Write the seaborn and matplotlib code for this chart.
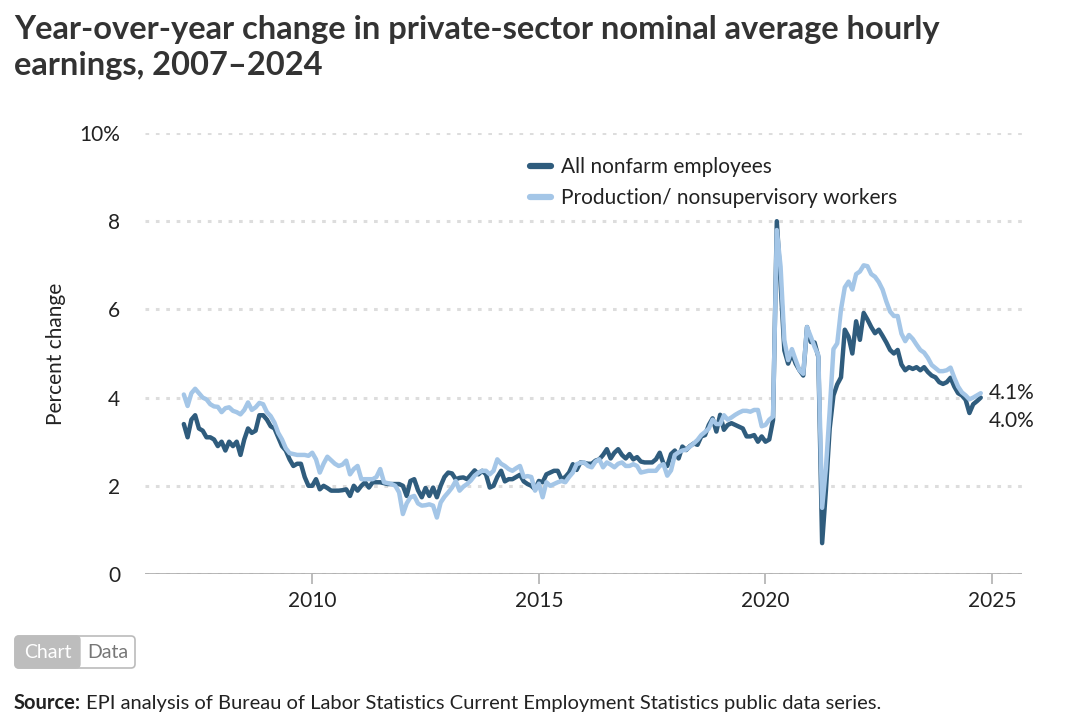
import numpy as np
import pandas as pd
import matplotlib
matplotlib.use("Agg")
import matplotlib.pyplot as plt
from matplotlib.lines import Line2D
from matplotlib.patches import FancyBboxPatch
import seaborn as sns

# ---------------- data (monthly, Mar 2007 - Oct 2024) ----------------
start_month = "2007-03-01"
series_names = ["All nonfarm employees", "Production/ nonsupervisory workers"]

all_nonfarm = [
    3.4, 3.1, 3.5, 3.6, 3.3, 3.25, 3.1, 3.1, 3.05, 2.9,                 # 2007
    3.0, 2.8, 3.0, 2.9, 3.0, 2.7, 3.05, 3.3, 3.2, 3.25, 3.6, 3.6,       # 2008
    3.5, 3.35, 3.3, 3.1, 2.9, 2.8, 2.6, 2.45, 2.5, 2.5, 2.2, 2.0,       # 2009
    2.0, 2.15, 1.92, 2.0, 1.95, 1.89, 1.89, 1.89, 1.9, 1.92, 1.77, 2.0, # 2010
    1.89, 2.0, 2.08, 1.96, 2.08, 2.08, 2.08, 2.06, 2.04, 2.04, 2.04, 2.04,  # 2011
    2.0, 1.77, 2.11, 2.15, 1.9, 1.74, 1.95, 1.77, 1.96, 1.74, 2.0, 2.2,     # 2012
    2.3, 2.28, 2.15, 2.18, 2.19, 2.15, 2.25, 2.35, 2.26, 2.34, 2.26, 1.96,  # 2013
    2.0, 2.2, 2.34, 2.1, 2.15, 2.15, 2.2, 2.25, 2.1, 2.04, 2.0, 1.92,       # 2014
    2.11, 2.08, 2.26, 2.3, 2.34, 2.34, 2.15, 2.2, 2.3, 2.49, 2.36, 2.53,    # 2015
    2.52, 2.5, 2.5, 2.57, 2.6, 2.7, 2.83, 2.62, 2.75, 2.83, 2.7, 2.62,      # 2016
    2.72, 2.6, 2.65, 2.55, 2.53, 2.53, 2.53, 2.6, 2.75, 2.5, 2.45, 2.72,    # 2017
    2.8, 2.62, 2.89, 2.81, 2.9, 2.96, 2.93, 3.12, 3.15, 3.38, 3.53, 3.23,   # 2018
    3.61, 3.27, 3.38, 3.42, 3.38, 3.34, 3.3, 3.12, 3.12, 3.15, 3.0, 3.12,   # 2019
    3.0, 3.05, 3.49, 8.0, 6.6, 5.07, 4.77, 5.0, 4.77, 4.62, 4.5, 5.6,       # 2020
    5.26, 5.25, 4.92, 0.7, 1.9, 3.3, 4.05, 4.3, 4.46, 5.54, 5.38, 5.0,      # 2021
    5.73, 5.31, 5.92, 5.77, 5.6, 5.46, 5.54, 5.4, 5.25, 5.08, 5.0, 5.08,    # 2022
    4.75, 4.62, 4.69, 4.65, 4.69, 4.62, 4.69, 4.58, 4.5, 4.46, 4.35, 4.31,  # 2023
    4.35, 4.45, 4.25, 4.1, 4.05, 3.95, 3.65, 3.85, 3.92, 4.0,               # 2024
]

production = [
    4.07, 3.81, 4.1, 4.2, 4.1, 4.0, 3.96, 3.85, 3.8, 3.79,                  # 2007
    3.67, 3.76, 3.78, 3.7, 3.67, 3.62, 3.72, 3.89, 3.72, 3.78, 3.88, 3.85,  # 2008
    3.67, 3.58, 3.43, 3.2, 3.05, 2.85, 2.74, 2.72, 2.7, 2.7, 2.7, 2.68,     # 2009
    2.75, 2.6, 2.3, 2.5, 2.66, 2.58, 2.5, 2.45, 2.48, 2.57, 2.26, 2.38,     # 2010
    2.45, 2.15, 2.15, 2.15, 2.15, 2.2, 2.38, 2.08, 2.06, 2.04, 2.0, 1.85,   # 2011
    1.36, 1.6, 1.74, 1.77, 1.6, 1.55, 1.56, 1.58, 1.55, 1.28, 1.62, 1.75,   # 2012
    1.85, 1.96, 2.11, 1.89, 1.98, 2.04, 2.12, 2.23, 2.3, 2.34, 2.34, 2.26,  # 2013
    2.34, 2.6, 2.5, 2.45, 2.38, 2.34, 2.4, 2.45, 2.2, 2.22, 2.2, 1.89,      # 2014
    2.05, 1.74, 2.08, 2.0, 2.04, 2.08, 2.11, 2.08, 2.2, 2.3, 2.49, 2.52,    # 2015
    2.53, 2.45, 2.42, 2.55, 2.6, 2.42, 2.53, 2.48, 2.42, 2.5, 2.53, 2.45,   # 2016
    2.45, 2.49, 2.45, 2.3, 2.32, 2.34, 2.34, 2.34, 2.45, 2.49, 2.23, 2.35,  # 2017
    2.7, 2.76, 2.8, 2.82, 2.89, 2.96, 3.04, 3.15, 3.22, 3.3, 3.5, 3.4,      # 2018
    3.4, 3.6, 3.5, 3.55, 3.61, 3.66, 3.7, 3.7, 3.68, 3.72, 3.72, 3.35,      # 2019
    3.38, 3.5, 3.57, 7.8, 6.97, 5.3, 4.85, 5.1, 4.85, 4.62, 4.54, 5.6,      # 2020
    5.38, 5.15, 4.96, 1.5, 2.4, 3.7, 5.1, 5.23, 6.0, 6.5, 6.63, 6.45,       # 2021
    6.8, 6.86, 7.0, 6.98, 6.8, 6.74, 6.62, 6.45, 6.18, 5.95, 5.85, 5.85,    # 2022
    5.45, 5.28, 5.42, 5.33, 5.2, 5.08, 5.02, 4.9, 4.74, 4.67, 4.6, 4.6,     # 2023
    4.62, 4.68, 4.45, 4.25, 4.12, 4.05, 3.96, 4.0, 4.05, 4.1,               # 2024
]

y_ticks = [0, 2, 4, 6, 8, 10]
y_tick_labels = ["0", "2", "4", "6", "8", "10%"]
x_ticks = [2010, 2015, 2020, 2025]
end_labels = ["4.0%", "4.1%"]

# ---------------- build long-form frame ----------------
dates = pd.date_range(start_month, periods=len(all_nonfarm), freq="MS")
xdec = dates.year + (dates.month - 1) / 12.0
df = pd.concat([
    pd.DataFrame({"x": xdec, "value": all_nonfarm, "series": series_names[0]}),
    pd.DataFrame({"x": xdec, "value": production, "series": series_names[1]}),
], ignore_index=True)

DARK = "#2F5C7D"
LIGHT = "#A4C6E7"
TXT = "#222222"
FS = 15

sns.set_theme(style="white")
plt.rcParams["font.family"] = ["Lato", "DejaVu Sans"]

fig = plt.figure(figsize=(10.8, 7.28), dpi=100)
ax = fig.add_axes([145 / 1080, 1 - 574 / 728, (1022 - 145) / 1080, (574 - 133) / 728])

sns.lineplot(data=df, x="x", y="value", hue="series", hue_order=series_names,
             palette=[DARK, LIGHT], linewidth=3.2, estimator=None, sort=False,
             legend=False, ax=ax)
for ln in ax.get_lines():
    ln.set_solid_capstyle("round")
    ln.set_solid_joinstyle("round")

ax.set_xlim(2006.31, 2025.66)
ax.set_ylim(0, 10)

# gridlines
for yv in y_ticks:
    ax.axhline(yv, color="#dddddd", linewidth=2.2, linestyle=(0, (1.2, 2.2)), zorder=0)
ax.axhline(0, color="#aaaaaa", linewidth=1.2, zorder=1)

for s in ax.spines.values():
    s.set_visible(False)

ax.set_yticks(y_ticks)
ax.set_yticklabels(y_tick_labels)
ax.set_xticks(x_ticks)
ax.set_xticklabels([str(t) for t in x_ticks])
ax.tick_params(axis="y", length=0, pad=18, labelsize=FS, labelcolor=TXT)
ax.tick_params(axis="x", length=7, width=1.1, color="#aaaaaa", pad=5,
               labelsize=FS, labelcolor=TXT, bottom=True)
ax.set_xlabel("")
ax.set_ylabel("Percent change", fontsize=FS, color=TXT)
ax.yaxis.set_label_coords((66 - 145) / (1022 - 145), 0.5)

# end labels
ax.annotate(end_labels[1], xy=(xdec[-1], production[-1]), xytext=(8, 0),
            textcoords="offset pixels", va="center", ha="left",
            fontsize=FS, color=TXT)
ax.annotate(end_labels[0], xy=(xdec[-1], all_nonfarm[-1]), xytext=(8, -23),
            textcoords="offset pixels", va="center", ha="left",
            fontsize=FS, color=TXT)

# legend
handles = [Line2D([0], [0], color=DARK, lw=4.5),
           Line2D([0], [0], color=LIGHT, lw=4.5)]
leg = fig.legend(handles, series_names, loc="upper left",
                 bbox_to_anchor=(530 / 1080, 1 - 157 / 728), frameon=False,
                 fontsize=FS, handlelength=1.0, handletextpad=0.5,
                 labelspacing=0.55, borderaxespad=0, borderpad=0)
for t in leg.get_texts():
    t.set_color(TXT)

# title
fig.text(14 / 1080, 1 - 15 / 728,
         "Year-over-year change in private-sector nominal average hourly\nearnings, 2007\u20132024",
         ha="left", va="top", fontsize=23.5, fontweight="bold", color="#333333",
         linespacing=1.28)

# Chart / Data toggle
box_ax = fig.add_axes([0, 0, 1, 1], facecolor="none")
box_ax.set_xlim(0, 1080)
box_ax.set_ylim(728, 0)
box_ax.axis("off")
outer = FancyBboxPatch((15, 636), 120, 32, boxstyle="round,pad=0,rounding_size=4",
                       facecolor="white", edgecolor="#bbbbbb", linewidth=1.2)
box_ax.add_patch(outer)
chart_btn = FancyBboxPatch((15, 636), 65, 32, boxstyle="round,pad=0,rounding_size=4",
                           facecolor="#bdbdbd", edgecolor="#bdbdbd", linewidth=1.0)
box_ax.add_patch(chart_btn)
box_ax.text(47.5, 652, "Chart", ha="center", va="center", fontsize=14, color="white")
box_ax.text(107.5, 652, "Data", ha="center", va="center", fontsize=14, color="#777777")

# source
src_bold = box_ax.text(14, 703, "Source:", ha="left", va="center", fontsize=14.5,
                       fontweight="bold", color=TXT)
fig.canvas.draw()
bb = src_bold.get_window_extent(renderer=fig.canvas.get_renderer())
box_ax.text(bb.x1 + 5, 703,
            "EPI analysis of Bureau of Labor Statistics Current Employment Statistics public data series.",
            ha="left", va="center", fontsize=14.5, color=TXT)

fig.savefig("out.png", dpi=100)
